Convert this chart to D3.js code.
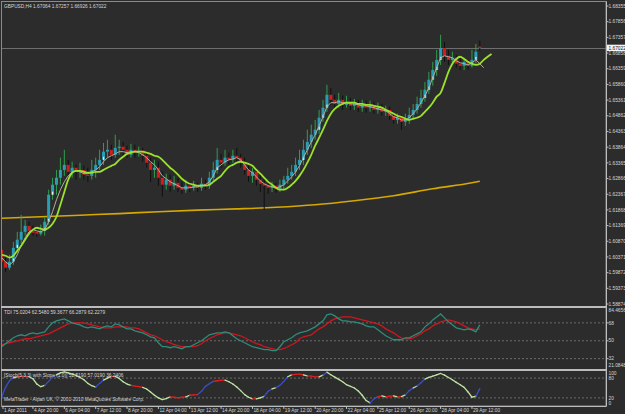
<!DOCTYPE html>
<html>
<head>
<meta charset="utf-8">
<script src="https://cdn.jsdelivr.net/npm/d3@7"></script>
<style>
  html, body { margin: 0; padding: 0; background: #2c2c2c; }
  svg { display: block; }
  text { font-family: "Liberation Sans", Arial, sans-serif; font-size: 4.8px; fill: #d6d6d6; }
</style>
</head>
<body>
<div id="chart"></div>
<script>
// GBPUSD H4 bars, 1 Apr 12:00 .. 29 Apr 20:00 (2011)
const barOpen = [
  1.6060,1.6022,1.6003,1.6022,1.6066,1.6092,1.6117,1.6136,1.6120,1.6117,
  1.6111,1.6120,1.6149,1.6235,1.6267,1.6289,1.6314,1.6330,1.6308,1.6321,
  1.6308,1.6314,1.6299,1.6295,1.6314,1.6330,1.6346,1.6372,1.6378,1.6362,
  1.6384,1.6388,1.6378,1.6362,1.6378,1.6369,1.6375,1.6359,1.6337,1.6314,
  1.6321,1.6289,1.6267,1.6283,1.6264,1.6273,1.6257,1.6251,1.6264,1.6257,
  1.6264,1.6257,1.6270,1.6264,1.6289,1.6314,1.6346,1.6337,1.6353,1.6346,
  1.6359,1.6353,1.6340,1.6314,1.6295,1.6308,1.6283,1.6270,1.6264,1.6257,
  1.6264,1.6254,1.6267,1.6283,1.6295,1.6308,1.6330,1.6346,1.6378,1.6403,
  1.6426,1.6442,1.6480,1.6512,1.6553,1.6537,1.6524,1.6537,1.6521,1.6531,
  1.6518,1.6524,1.6512,1.6521,1.6512,1.6518,1.6505,1.6512,1.6499,1.6505,
  1.6486,1.6473,1.6480,1.6467,1.6477,1.6489,1.6505,1.6524,1.6543,1.6569,
  1.6601,1.6632,1.6664,1.6702,1.6677,1.6664,1.6671,1.6652,1.6645,1.6658,
  1.6645,1.6664,1.67064
];
const barHigh = [
  1.6073,1.6035,1.6044,1.6085,1.6117,1.6171,1.6155,1.6149,1.6136,1.6130,
  1.6140,1.6162,1.6251,1.6289,1.6314,1.6353,1.6378,1.6346,1.6340,1.6330,
  1.6337,1.6327,1.6321,1.6346,1.6353,1.6378,1.6400,1.6410,1.6394,1.6426,
  1.6410,1.6403,1.6391,1.6397,1.6394,1.6388,1.6384,1.6372,1.6353,1.6346,
  1.6340,1.6308,1.6302,1.6299,1.6295,1.6289,1.6276,1.6283,1.6276,1.6279,
  1.6273,1.6289,1.6283,1.6308,1.6340,1.6384,1.6365,1.6378,1.6369,1.6378,
  1.6384,1.6365,1.6353,1.6327,1.6321,1.6314,1.6299,1.6289,1.6276,1.6276,
  1.6273,1.6283,1.6295,1.6321,1.6330,1.6353,1.6378,1.6410,1.6442,1.6458,
  1.6473,1.6505,1.6537,1.6585,1.6575,1.6553,1.6559,1.6550,1.6550,1.6543,
  1.6540,1.6537,1.6537,1.6534,1.6534,1.6531,1.6528,1.6524,1.6518,1.6515,
  1.6499,1.6493,1.6489,1.6493,1.6512,1.6524,1.6547,1.6569,1.6594,1.6626,
  1.6658,1.6696,1.6744,1.6721,1.6696,1.6690,1.6680,1.6671,1.6671,1.6664,
  1.6696,1.6715,1.67257
];
const barLow = [
  1.6016,1.5990,1.5996,1.6012,1.6054,1.6079,1.6105,1.6111,1.6105,1.6101,
  1.6105,1.6105,1.6140,1.6219,1.6235,1.6267,1.6295,1.6283,1.6289,1.6283,
  1.6289,1.6283,1.6276,1.6283,1.6289,1.6314,1.6330,1.6353,1.6346,1.6353,
  1.6362,1.6359,1.6353,1.6353,1.6353,1.6356,1.6340,1.6321,1.6276,1.6289,
  1.6264,1.6229,1.6251,1.6244,1.6251,1.6244,1.6238,1.6241,1.6244,1.6248,
  1.6244,1.6248,1.6251,1.6254,1.6276,1.6302,1.6321,1.6327,1.6330,1.6337,
  1.6340,1.6321,1.6299,1.6276,1.6273,1.6264,1.6244,1.6187,1.6238,1.6244,
  1.6241,1.6244,1.6251,1.6270,1.6283,1.6295,1.6314,1.6330,1.6362,1.6384,
  1.6410,1.6429,1.6467,1.6499,1.6521,1.6505,1.6512,1.6505,1.6512,1.6505,
  1.6505,1.6499,1.6499,1.6496,1.6499,1.6493,1.6493,1.6486,1.6486,1.6473,
  1.6461,1.6461,1.6442,1.6454,1.6461,1.6473,1.6493,1.6512,1.6531,1.6556,
  1.6582,1.6613,1.6648,1.6658,1.6648,1.6652,1.6639,1.6632,1.6632,1.6632,
  1.6639,1.6652,1.66926
];
const barClose = [
  1.6022,1.6003,1.6022,1.6066,1.6092,1.6117,1.6136,1.6120,1.6114,1.6111,
  1.6120,1.6149,1.6235,1.6267,1.6289,1.6314,1.6330,1.6308,1.6321,1.6308,
  1.6314,1.6299,1.6295,1.6314,1.6330,1.6346,1.6372,1.6378,1.6362,1.6384,
  1.6388,1.6378,1.6362,1.6378,1.6369,1.6375,1.6359,1.6337,1.6314,1.6321,
  1.6289,1.6267,1.6283,1.6264,1.6273,1.6257,1.6251,1.6264,1.6257,1.6264,
  1.6257,1.6270,1.6264,1.6289,1.6314,1.6346,1.6337,1.6353,1.6346,1.6359,
  1.6353,1.6340,1.6314,1.6295,1.6308,1.6283,1.6270,1.6264,1.6257,1.6264,
  1.6254,1.6267,1.6283,1.6295,1.6308,1.6330,1.6346,1.6378,1.6403,1.6426,
  1.6442,1.6480,1.6512,1.6553,1.6537,1.6524,1.6537,1.6521,1.6531,1.6518,
  1.6524,1.6512,1.6521,1.6512,1.6518,1.6505,1.6512,1.6499,1.6505,1.6486,
  1.6473,1.6480,1.6467,1.6477,1.6489,1.6505,1.6524,1.6543,1.6569,1.6601,
  1.6632,1.6664,1.6702,1.6677,1.6664,1.6671,1.6652,1.6645,1.6658,1.6645,
  1.6664,1.6690,1.67022
];

// shifted moving averages (lime runs 3 bars past the last bar, grey 1)
const limeMa = [
  1.6044,1.6041,1.6035,1.6041,1.6057,1.6073,1.6092,1.6111,1.6124,1.6130,
  1.6127,1.6124,1.6130,1.6143,1.6165,1.6203,1.6244,1.6283,1.6305,1.6311,
  1.6311,1.6308,1.6305,1.6305,1.6308,1.6308,1.6314,1.6321,1.6327,1.6333,
  1.6346,1.6356,1.6365,1.6369,1.6372,1.6372,1.6372,1.6369,1.6365,1.6359,
  1.6356,1.6346,1.6333,1.6321,1.6311,1.6299,1.6286,1.6276,1.6270,1.6267,
  1.6264,1.6264,1.6264,1.6267,1.6276,1.6286,1.6295,1.6311,1.6324,1.6330,
  1.6337,1.6340,1.6337,1.6333,1.6327,1.6314,1.6302,1.6289,1.6276,1.6267,
  1.6257,1.6251,1.6251,1.6257,1.6267,1.6279,1.6295,1.6314,1.6337,1.6362,
  1.6391,1.6416,1.6442,1.6470,1.6493,1.6508,1.6518,1.6524,1.6528,1.6528,
  1.6528,1.6524,1.6524,1.6521,1.6521,1.6518,1.6515,1.6512,1.6505,1.6499,
  1.6493,1.6486,1.6483,1.6477,1.6473,1.6477,1.6480,1.6486,1.6499,1.6512,
  1.6528,1.6547,1.6559,1.6591,1.6626,1.6652,1.6667,1.6674,1.6667,1.6658,
  1.6652,1.6648,1.6652,1.6664,1.6674,1.6683
];
const greyMa = [
  1.6035,1.6022,1.6012,1.6022,1.6044,1.6073,1.6098,1.6117,1.6124,1.6120,
  1.6117,1.6124,1.6149,1.6181,1.6219,1.6251,1.6276,1.6295,1.6308,1.6311,
  1.6308,1.6302,1.6302,1.6308,1.6314,1.6324,1.6340,1.6353,1.6359,1.6365,
  1.6372,1.6372,1.6369,1.6372,1.6372,1.6369,1.6362,1.6353,1.6340,1.6330,
  1.6314,1.6295,1.6286,1.6276,1.6270,1.6264,1.6257,1.6257,1.6257,1.6260,
  1.6260,1.6264,1.6267,1.6276,1.6295,1.6321,1.6330,1.6340,1.6346,1.6349,
  1.6353,1.6346,1.6330,1.6314,1.6305,1.6292,1.6279,1.6270,1.6264,1.6260,
  1.6257,1.6260,1.6267,1.6279,1.6292,1.6308,1.6327,1.6353,1.6378,1.6403,
  1.6426,1.6454,1.6483,1.6515,1.6528,1.6528,1.6531,1.6528,1.6528,1.6524,
  1.6524,1.6521,1.6518,1.6518,1.6515,1.6512,1.6508,1.6505,1.6502,1.6493,
  1.6483,1.6480,1.6473,1.6473,1.6480,1.6493,1.6508,1.6528,1.6550,1.6575,
  1.6607,1.6639,1.6671,1.6677,1.6674,1.6671,1.6661,1.6655,1.6652,1.6648,
  1.6655,1.6664,1.6652,1.6639
];
// slow MA, read every ten bars
const slowMaBars = [0, 10, 20, 30, 40, 50, 60, 70, 80, 90, 100, 110, 120, 122];
const slowMa = [1.6160,1.6165,1.6170,1.6175,1.6181,1.6186,1.6190,1.6195,1.6203,1.6216,1.6232,1.6254,1.6273,1.6278];

// TDI window
const tdiRsi = [
  44,47,50,53,55,56,55,57,58,57, 58,59,64,68,70,71,72,70,68,67,
  66,64,63,64,63,62,64,65,64,67, 66,64,62,62,60,59,58,56,54,53,
  48,44,44,43,44,43,42,44,44,46, 48,50,53,56,57,58,58,59,58,55,
  52,50,48,46,44,43,42,41,41,40, 40,44,49,51,53,56,58,59,60,62,
  64,67,70,76,77,75,72,70,70,69, 69,68,67,65,64,64,61,58,55,53,
  51,51,51,53,53,55,57,59,64,67, 71,74,77,73,69,66,63,62,61,62,
  61,59,66
];
const tdiSignal = [
  46,47,48,49,50,51,52,52,53,54, 55,56,57,59,61,63,65,67,68,68,
  68,68,67,66,65,64,63,63,63,64, 64,64,64,63,63,62,60,58,56,55,
  53,51,49,48,46,45,44,44,44,44, 45,47,50,52,54,56,57,58,58,57,
  56,55,53,51,49,47,46,44,43,42, 41,41,42,44,46,48,52,54,55,56,
  59,62,64,67,70,72,73,74,74,74, 73,72,71,70,69,68,67,65,62,60,
  58,55,53,52,52,53,55,57,60,62, 65,67,69,70,71,70,69,67,65,63,
  62,61,62
];
const tdiLevels = [68, 50, 32];
const tdiLabels = ["84.4656", "68", "50", "32", "21.0848"];

// Stochastic window
const stoch = [
  22,52,72,81,84,86,86,84,78,62, 54,58,70,83,90,96,99,96,92,88,
  82,75,64,57,53,64,74,80,85,85, 79,69,62,58,56,54,52,47,38,28,
  20,15,18,23,22,20,22,23,28,29, 30,40,55,63,70,72,73,74,69,62,
  53,42,30,22,17,17,20,25,40,47, 51,58,70,84,90,91,92,90,87,86,
  84,84,89,98,90,83,76,69,60,55, 50,41,28,12,5,17,24,26,23,25,
  26,23,24,29,42,50,56,66,77,82, 86,90,94,89,82,75,67,60,52,38,
  22,25,48
];
const stochLevels = [80, 20];
const stochLabels = ["100", "80", "20", "0"];

// axes
const priceTicks = ["1.68355","1.67856","1.67357","1.66858","1.66359","1.65860","1.65361","1.64862","1.64363","1.63864",
                    "1.63365","1.62866","1.62367","1.61868","1.61369","1.60870","1.60371","1.59872","1.59373","1.58874"];
const dateBars = [0, 8, 16, 24, 32, 40, 48, 56, 64, 72, 80, 88, 96, 104, 112, 120];
const dateLabels = ["1 Apr 2011","4 Apr 20:00","6 Apr 04:00","7 Apr 12:00","8 Apr 20:00","12 Apr 04:00","13 Apr 12:00",
                    "14 Apr 20:00","18 Apr 04:00","19 Apr 12:00","20 Apr 20:00","22 Apr 04:00","25 Apr 12:00",
                    "26 Apr 20:00","28 Apr 04:00","29 Apr 12:00"];
const bidPrice = 1.67022;

const width = 625, height = 414;
const axisX = 606;
const win = {
  main: { top: 2, bottom: 306 },
  tdi: { top: 308, bottom: 369 },
  sto: { top: 371, bottom: 406 }
};

const svg = d3.select("#chart").append("svg")
    .attr("width", width)
    .attr("height", height);

svg.append("rect").attr("width", width).attr("height", height).attr("fill", "#2c2c2c");

const defs = svg.append("defs");
Object.entries(win).forEach(([k, w]) => {
  defs.append("clipPath").attr("id", "clip-" + k)
    .append("rect").attr("x", 2).attr("y", w.top).attr("width", axisX - 2).attr("height", w.bottom - w.top);
});

const x = d3.scaleLinear().domain([0, 122]).range([1.6, 479.8]);
const y = d3.scaleLinear().domain([1.58874, 1.68355]).range([304, 6]);
const yTdi = d3.scaleLinear().domain([21.0848, 84.4656]).range([369.5, 306.5]);
const ySto = d3.scaleLinear().domain([0, 100]).range([404.5, 371.5]);

// ---------- main window ----------
const gMain = svg.append("g").attr("clip-path", "url(#clip-main)");

// bid line
gMain.append("line")
    .attr("x1", 2).attr("x2", axisX)
    .attr("y1", Math.round(y(bidPrice)) + 0.5).attr("y2", Math.round(y(bidPrice)) + 0.5)
    .attr("stroke", "#6e6e6e").attr("stroke-width", 1);

gMain.append("path")
    .datum(slowMa)
    .attr("fill", "none")
    .attr("stroke", "#d6a800")
    .attr("stroke-width", 1.6)
    .attr("d", d3.line().curve(d3.curveMonotoneX).x((d, i) => x(slowMaBars[i])).y(d => y(d)));

const bars = d3.range(barClose.length);
const isUp = i => barClose[i] >= barOpen[i];

gMain.selectAll("line.wick")
    .data(bars)
    .join("line")
    .attr("class", "wick")
    .attr("x1", i => x(i)).attr("x2", i => x(i))
    .attr("y1", i => y(barHigh[i])).attr("y2", i => y(barLow[i]))
    .attr("stroke", i => isUp(i) ? "#2f9e4c" : "#101010")
    .attr("stroke-width", 1);

gMain.selectAll("rect.body")
    .data(bars)
    .join("rect")
    .attr("class", "body")
    .attr("x", i => x(i) - 1.5)
    .attr("width", 3)
    .attr("y", i => y(Math.max(barOpen[i], barClose[i])))
    .attr("height", i => Math.max(1, Math.abs(y(barOpen[i]) - y(barClose[i]))))
    .attr("fill", i => isUp(i) ? "#2a9db4" : "#d41c1c");

// small white mark at the open of rising bars
gMain.selectAll("rect.mark")
    .data(bars.filter(i => isUp(i) && y(barOpen[i]) - y(barClose[i]) > 8))
    .join("rect")
    .attr("class", "mark")
    .attr("x", i => x(i) - 0.5)
    .attr("width", 1.2)
    .attr("y", i => y(barOpen[i]) - 3)
    .attr("height", 3)
    .attr("fill", "#f0f0f0");

gMain.append("path")
    .datum(greyMa)
    .attr("fill", "none")
    .attr("stroke", "#b4ad9c")
    .attr("stroke-width", 1)
    .attr("d", d3.line().x((d, i) => x(i)).y(d => y(d)));

gMain.append("path")
    .datum(limeMa)
    .attr("fill", "none")
    .attr("stroke", "#9be22a")
    .attr("stroke-width", 1.8)
    .attr("d", d3.line().curve(d3.curveMonotoneX).x((d, i) => x(i)).y(d => y(d)));

svg.append("text").attr("x", 4).attr("y", 7.5)
    .text("GBPUSD,H4  1.67064 1.67257 1.66926 1.67022");

// price axis
priceTicks.forEach(t => {
  const py = y(+t);
  svg.append("line").attr("x1", axisX).attr("x2", axisX + 2.5).attr("y1", py).attr("y2", py)
      .attr("stroke", "#bdbdbd");
  svg.append("text").attr("x", axisX + 2.5).attr("y", py).attr("dy", "0.35em").text(t);
});
svg.append("rect")
    .attr("x", axisX + 1).attr("y", y(bidPrice) - 3.2)
    .attr("width", width - axisX).attr("height", 6.4)
    .attr("fill", "#f4f4f4");
svg.append("text").attr("x", axisX + 2.5).attr("y", y(bidPrice)).attr("dy", "0.35em")
    .style("fill", "#111").text("1.67022");

// ---------- TDI window ----------
const gTdi = svg.append("g").attr("clip-path", "url(#clip-tdi)");
gTdi.selectAll("line.level")
    .data(tdiLevels)
    .join("line")
    .attr("x1", 2).attr("x2", axisX)
    .attr("y1", d => yTdi(d)).attr("y2", d => yTdi(d))
    .attr("stroke", "#6a6a6a").attr("stroke-dasharray", "2,2");

gTdi.append("path")
    .datum(tdiSignal)
    .attr("fill", "none").attr("stroke", "#d0161e").attr("stroke-width", 1.3)
    .attr("d", d3.line().x((d, i) => x(i)).y(d => yTdi(d)));
gTdi.append("path")
    .datum(tdiRsi)
    .attr("fill", "none").attr("stroke", "#2e8c7c").attr("stroke-width", 1.3)
    .attr("d", d3.line().x((d, i) => x(i)).y(d => yTdi(d)));

svg.append("text").attr("x", 4).attr("y", 314)
    .text("TDI 75.0204 62.5480 59.3677 66.2879 62.2279");

const tdiLabelVals = [84.4656, 68, 50, 32, 21.0848];
tdiLabels.forEach((t, k) => {
  const v = tdiLabelVals[k];
  let ly = yTdi(v);
  if (k === 0) ly += 4;
  if (k === tdiLabels.length - 1) ly -= 4;
  if (k > 0 && k < tdiLabels.length - 1) {
    svg.append("line").attr("x1", axisX).attr("x2", axisX + 2.5).attr("y1", ly).attr("y2", ly).attr("stroke", "#bdbdbd");
  }
  svg.append("text").attr("x", axisX + 2.5).attr("y", ly).attr("dy", "0.35em").text(t);
});

// ---------- Stochastic window ----------
const gSto = svg.append("g").attr("clip-path", "url(#clip-sto)");
gSto.selectAll("line.level")
    .data(stochLevels)
    .join("line")
    .attr("x1", 2).attr("x2", axisX)
    .attr("y1", d => ySto(d)).attr("y2", d => ySto(d))
    .attr("stroke", "#6a6a6a").attr("stroke-dasharray", "2,2");

// slope colouring: rising blue, falling light green, flat red
const segs = d3.range(stoch.length - 1);
gSto.selectAll("line.seg")
    .data(segs)
    .join("line")
    .attr("x1", i => x(i)).attr("x2", i => x(i + 1))
    .attr("y1", i => ySto(stoch[i])).attr("y2", i => ySto(stoch[i + 1]))
    .attr("stroke", i => {
      const d = stoch[i + 1] - stoch[i];
      if (Math.abs(d) <= 2) return "#e01e1e";
      return d > 6 ? "#3a4fc8" : "#bfe3a4";
    })
    .attr("stroke-width", 1.3)
    .attr("stroke-linecap", "round");

svg.append("text").attr("x", 4).attr("y", 376.5)
    .text("[Stoch(5,3,3) with Slope (1.0)] 52.5190 57.0190 36.2406");
svg.append("text").attr("x", 4).attr("y", 400.5)
    .text("MetaTrader - Alpari UK, \u00a9 2001-2010 MetaQuotes Software Corp.");

const stochLabelVals = [100, 80, 20, 0];
stochLabels.forEach((t, k) => {
  let ly = ySto(stochLabelVals[k]);
  if (k === 0) ly += 1.5;
  if (k === 3) ly -= 1;
  svg.append("text").attr("x", axisX + 2.5).attr("y", ly).attr("dy", "0.35em").text(t);
});

// ---------- frames ----------
svg.append("rect")
    .attr("x", 1.5).attr("y", 1.5).attr("width", axisX - 1.5).attr("height", win.sto.bottom - 1.5)
    .attr("fill", "none").attr("stroke", "#8a8a8a");
svg.append("rect").attr("x", 1).attr("y", 306).attr("width", axisX).attr("height", 2).attr("fill", "#bcbcbc");
svg.append("rect").attr("x", 1).attr("y", 369).attr("width", axisX).attr("height", 2).attr("fill", "#bcbcbc");
svg.append("line").attr("x1", axisX + 0.5).attr("x2", axisX + 0.5).attr("y1", 1.5).attr("y2", 406)
    .attr("stroke", "#bdbdbd");
svg.append("line").attr("x1", 1.5).attr("x2", axisX + 0.5).attr("y1", 406.5).attr("y2", 406.5)
    .attr("stroke", "#bdbdbd");

// time axis
dateBars.forEach((b, k) => {
  const tx = k === 0 ? 3 : x(b);
  svg.append("line").attr("x1", tx).attr("x2", tx).attr("y1", 406).attr("y2", 409).attr("stroke", "#bdbdbd");
  svg.append("text").attr("x", tx + 1).attr("y", 411.5).text(dateLabels[k]);
});
</script>
</body>
</html>
